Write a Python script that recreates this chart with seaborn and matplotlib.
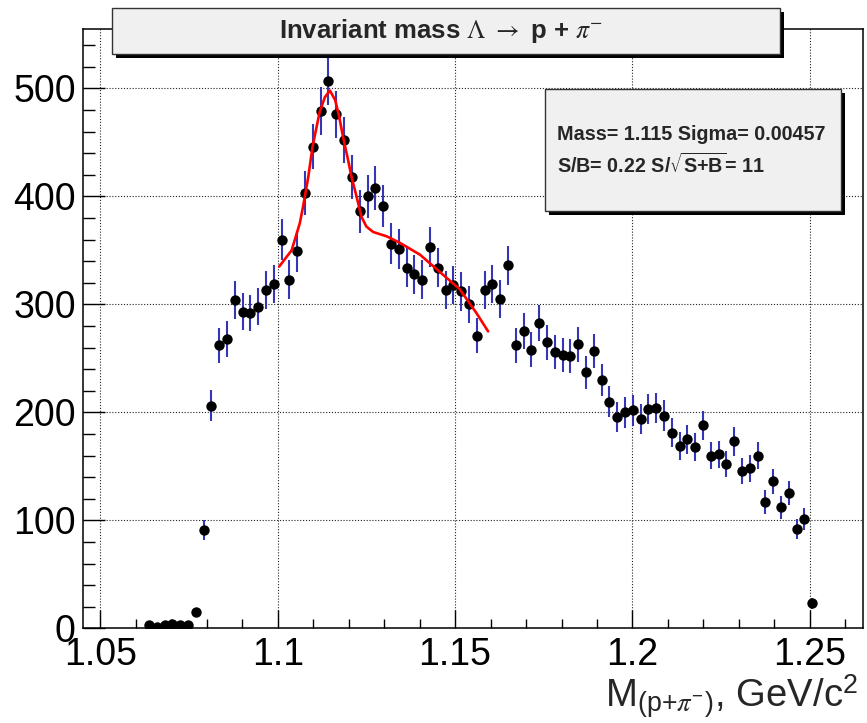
import numpy as np
import pandas as pd
import matplotlib
matplotlib.use("Agg")
import matplotlib.pyplot as plt
from matplotlib.patches import Rectangle
from matplotlib.ticker import MultipleLocator
import seaborn as sns

# ---------------- data ----------------
mass = [1.0637, 1.0659, 1.0681, 1.0703, 1.0725, 1.0747, 1.0769, 1.0791, 1.0813, 1.0835,
        1.0857, 1.0879, 1.0901, 1.0923, 1.0945, 1.0967, 1.0989, 1.1011, 1.1033, 1.1055,
        1.1077, 1.1099, 1.1121, 1.1143, 1.1165, 1.1187, 1.1209, 1.1231, 1.1253, 1.1275,
        1.1297, 1.1319, 1.1341, 1.1363, 1.1385, 1.1407, 1.1429, 1.1451, 1.1473, 1.1495,
        1.1517, 1.1539, 1.1561, 1.1583, 1.1605, 1.1627, 1.1649, 1.1671, 1.1693, 1.1715,
        1.1737, 1.1759, 1.1781, 1.1803, 1.1825, 1.1847, 1.1869, 1.1891, 1.1913, 1.1935,
        1.1957, 1.1979, 1.2001, 1.2023, 1.2045, 1.2067, 1.2089, 1.2111, 1.2133, 1.2155,
        1.2177, 1.2199, 1.2221, 1.2243, 1.2265, 1.2287, 1.2309, 1.2331, 1.2353, 1.2375,
        1.2397, 1.2419, 1.2441, 1.2463, 1.2485, 1.2507]
counts = [3, 1, 3, 4, 3, 3, 15, 91, 206, 262,
          268, 304, 293, 292, 298, 313, 319, 360, 323, 349,
          403, 446, 479, 507, 476, 452, 418, 386, 400, 408,
          391, 356, 351, 334, 328, 323, 353, 334, 313, 318,
          312, 300, 271, 313, 319, 305, 336, 262, 275, 258,
          283, 265, 256, 253, 252, 263, 237, 257, 230, 210,
          196, 200, 202, 194, 203, 204, 197, 181, 169, 175,
          168, 188, 160, 161, 152, 173, 146, 148, 160, 117,
          136, 112, 125, 92, 101, 23]
errors = [1.7, 1.0, 1.7, 2.0, 1.7, 1.7, 3.9, 9.5, 14.4, 16.2,
          16.4, 17.4, 17.1, 17.1, 17.3, 17.7, 17.9, 19.0, 18.0, 18.7,
          20.1, 21.1, 21.9, 22.5, 21.8, 21.3, 20.4, 19.6, 20.0, 20.2,
          19.8, 18.9, 18.7, 18.3, 18.1, 18.0, 18.8, 18.3, 17.7, 17.8,
          17.7, 17.3, 16.5, 17.7, 17.9, 17.5, 18.3, 16.2, 16.6, 16.1,
          16.8, 16.3, 16.0, 15.9, 15.9, 16.2, 15.4, 16.0, 15.2, 14.5,
          14.0, 14.1, 14.2, 13.9, 14.2, 14.3, 14.0, 13.5, 13.0, 13.2,
          13.0, 13.7, 12.6, 12.7, 12.3, 13.2, 12.1, 12.2, 12.6, 10.8,
          11.7, 10.6, 11.2, 9.6, 10.0, 4.8]

fit_mass = [1.1004, 1.1039, 1.1062, 1.1071, 1.1086, 1.1098, 1.1118, 1.1133, 1.1147,
            1.1162, 1.1173, 1.1184, 1.1198, 1.1208, 1.1222, 1.1236, 1.1250, 1.1269,
            1.1307, 1.1344, 1.1401, 1.1457, 1.1513, 1.1560, 1.1593]
fit_counts = [335, 350, 375, 390, 418, 446, 478, 492, 498,
              489, 474, 455, 434, 418, 400, 381, 372, 367,
              363, 357, 346, 330, 314, 292, 275]

x_ticks = [1.05, 1.1, 1.15, 1.2, 1.25]
x_tick_labels = ["1.05", "1.1", "1.15", "1.2", "1.25"]
y_ticks = [0, 100, 200, 300, 400, 500]
y_tick_labels = ["0", "100", "200", "300", "400", "500"]

title_text = r"Invariant mass $\Lambda$ $\rightarrow$ p + $\pi^{-}$"
stats_line1 = "Mass= 1.115 Sigma= 0.00457"
stats_line2 = r"S/B= 0.22 S/$\sqrt{\mathregular{S{+}B}}$= 11"
xlabel_text = r"M$_{\mathregular{(p{+}}\pi^{\mathregular{-}}\mathregular{)}}$, GeV/c$^{\mathregular{2}}$"

# ---------------- style ----------------
sns.set_theme(style="ticks")
plt.rcParams['font.family'] = ['Liberation Sans', 'DejaVu Sans']
plt.rcParams['axes.linewidth'] = 1.1

W, H = 867, 723
fig = plt.figure(figsize=(W / 100, H / 100), dpi=100)
fig.patch.set_facecolor('white')

ax_l, ax_r, ax_t, ax_b = 82.7, 863.0, 29.0, 628.3
ax = fig.add_axes([ax_l / W, 1 - ax_b / H, (ax_r - ax_l) / W, (ax_b - ax_t) / H])
ax.set_facecolor('white')

df = pd.DataFrame({"mass": mass, "counts": counts, "err": errors})
fit_df = pd.DataFrame({"mass": fit_mass, "counts": fit_counts})

ax.errorbar(df["mass"], df["counts"], yerr=df["err"], fmt='none',
            ecolor='#3535b8', elinewidth=1.5, capsize=0, zorder=3)
sns.scatterplot(data=df, x="mass", y="counts", ax=ax, color='black',
                s=56, edgecolor='black', linewidth=0, zorder=4, legend=False)
sns.lineplot(data=fit_df, x="mass", y="counts", ax=ax, color='red',
             lw=1.9, sort=False, estimator=None, zorder=5)

ax.set_xlim(1.045, 1.265)
ax.set_ylim(0, 555)
ax.set_xticks(x_ticks)
ax.set_xticklabels(x_tick_labels)
ax.set_yticks(y_ticks)
ax.set_yticklabels(y_tick_labels)
ax.xaxis.set_minor_locator(MultipleLocator(0.01))
ax.yaxis.set_minor_locator(MultipleLocator(20))
ax.tick_params(axis='both', which='both', direction='in', top=False, right=False,
               labelsize=27, colors='black', width=1.0)
ax.tick_params(axis='y', which='major', length=16, pad=5)
ax.tick_params(axis='y', which='minor', length=8.5)
ax.tick_params(axis='x', which='major', length=13, pad=6)
ax.tick_params(axis='x', which='minor', length=6.5)
for lab in ax.get_xticklabels() + ax.get_yticklabels():
    lab.set_color('black')
ax.grid(True, which='major', linestyle=(0, (1, 1.6)), color='#222222', lw=0.8)
ax.set_axisbelow(True)
for s in ax.spines.values():
    s.set_color('black')
    s.set_linewidth(1.1)
ax.set_xlabel("")
ax.set_ylabel("")

# ---------------- boxes ----------------
def box(x0, y0, x1, y1, shadow=4):
    fig.patches.append(Rectangle(((x0 + shadow) / W, 1 - (y1 + shadow) / H),
                                 (x1 - x0) / W, (y1 - y0) / H, transform=fig.transFigure,
                                 facecolor='black', edgecolor='black', lw=0, zorder=10))
    fig.patches.append(Rectangle((x0 / W, 1 - y1 / H), (x1 - x0) / W, (y1 - y0) / H,
                                 transform=fig.transFigure, facecolor='#f0f0f0',
                                 edgecolor='#333333', lw=1.0, zorder=11))

box(112, 8, 780, 54)
fig.text(441 / W, 1 - 31 / H, title_text, ha='center', va='center', fontsize=18.5,
         fontweight='bold', math_fontfamily='stix', zorder=12)

box(545, 89, 841, 211)
fig.text(557 / W, 1 - 134 / H, stats_line1, ha='left', va='center', fontsize=14.2,
         fontweight='bold', zorder=12)
fig.text(557 / W, 1 - 165 / H, stats_line2, ha='left', va='center', fontsize=14.2,
         fontweight='bold', math_fontfamily='dejavusans', zorder=12)

fig.text(858 / W, 1 - 708 / H, xlabel_text, ha='right', va='baseline', fontsize=27.5,
         math_fontfamily='stix')

fig.savefig("out.png", dpi=100, facecolor='white')
